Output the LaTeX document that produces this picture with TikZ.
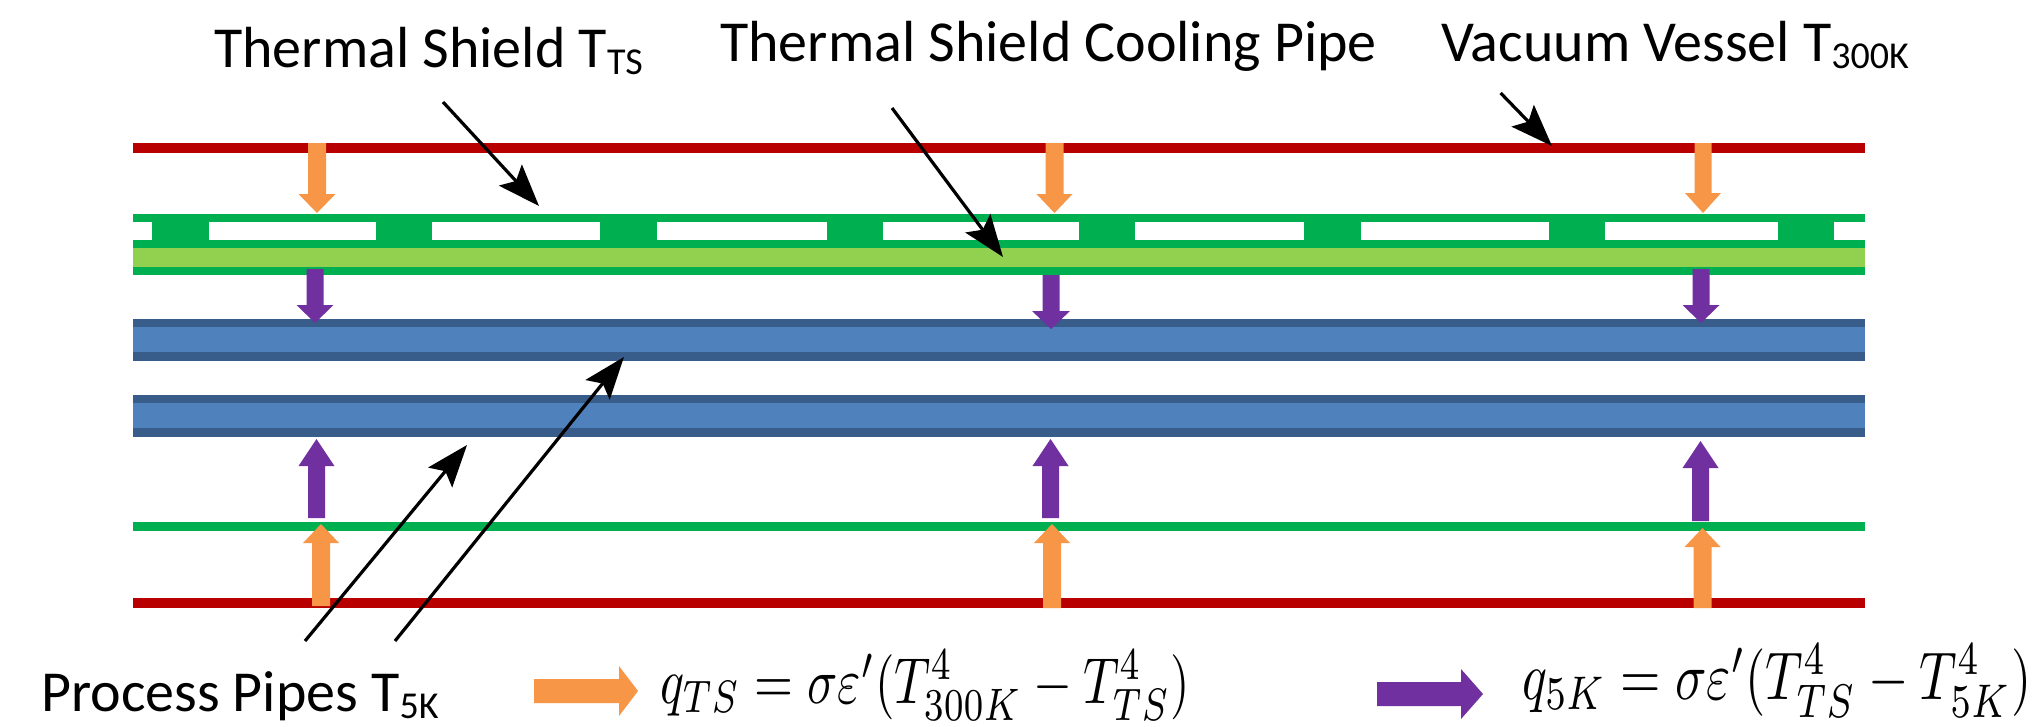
\documentclass[tikz,border=0pt]{standalone}
\usepackage[no-math]{fontspec}
\setmainfont{Carlito}
\usetikzlibrary{arrows.meta}
\definecolor{cred}{HTML}{B80000}
\definecolor{cgreen}{HTML}{00B050}
\definecolor{clight}{HTML}{92D050}
\definecolor{cblue}{HTML}{4F81BD}
\definecolor{cdark}{HTML}{385D8A}
\definecolor{corange}{HTML}{F79646}
\definecolor{cpurple}{HTML}{7030A0}
\tikzset{
  label text/.style={anchor=base west,inner sep=0pt,font=\fontsize{58}{68}\selectfont,text=black},
  eq text/.style={anchor=base west,inner sep=0pt,text=black},
  leader/.style={draw=black,line width=3.2pt,-{Stealth[length=42pt,width=31pt,inset=8pt]}},
  band/.style={draw=none}
}
\newcommand{\lowsub}[1]{\raisebox{-7pt}{\fontsize{38}{38}\selectfont #1}}
% \vblock{colour}{x centre}{half shaft}{half head}{tail y}{neck y}{tip y}
\newcommand{\vblock}[7]{\fill[#1] (#2-#3,#5) -- (#2+#3,#5) -- (#2+#3,#6) -- (#2+#4,#6) -- (#2,#7) -- (#2-#4,#6) -- (#2-#3,#6) -- cycle;}
\newcommand{\hblock}[7]{\fill[#1] (#2,#3-#4) -- (#6,#3-#4) -- (#6,#3-#5) -- (#7,#3) -- (#6,#3+#5) -- (#6,#3+#4) -- (#2,#3+#4) -- cycle;}
\begin{document}
\begin{tikzpicture}[x=1pt,y=-1pt]
\useasboundingbox (0,0) rectangle (2033,726);
\fill[white] (0,0) rectangle (2033,726);
% red lines
\fill[cred,band] (132.5,143) rectangle (1865,153);
\fill[cred,band] (132.5,598) rectangle (1865,608);
% thermal shield
\fill[cgreen,band] (132.5,214) rectangle (1865,275);
\fill[clight,band] (132.5,248) rectangle (1865,267);
\foreach \xa/\xb in {132.5/151.7,209/376,432/600,657/827,883.4/1078.6,1135/1304,1361/1549,1604.7/1777.5,1834/1865}
  \fill[white] (\xa,222) rectangle (\xb,240);
\fill[cgreen,band] (132.5,522) rectangle (1865,531);
% pipes
\foreach \ya in {319,395} {
  \fill[cdark,band] (132.5,\ya) rectangle (1865,\ya+41.5);
  \fill[cblue,band] (132.5,\ya+8) rectangle (1865,\ya+33);
}
% heat-flow arrows, orange down
\vblock{corange}{317}{9}{18.5}{143}{194}{213}
\vblock{corange}{1054.5}{9}{18}{143}{194}{213}
\vblock{corange}{1703}{8.5}{18}{143}{193}{213}
% purple down
\vblock{cpurple}{315}{8.5}{18.5}{269}{305}{323}
\vblock{cpurple}{1051}{8.5}{19}{275}{311}{329}
\vblock{cpurple}{1701}{8.5}{18.5}{269}{305}{323}
% purple up
\vblock{cpurple}{316.5}{8.5}{18}{518}{466}{439}
\vblock{cpurple}{1050.5}{8.5}{18}{518}{466}{439}
\vblock{cpurple}{1700.5}{8.5}{18}{521}{468}{441}
% orange up
\vblock{corange}{321}{9}{18}{606}{543}{524}
\vblock{corange}{1052}{9}{18}{608}{543}{524}
\vblock{corange}{1702.5}{9}{18}{608}{547}{528}
% labels
\node[label text] (ts) at (214,67) {Thermal Shield T\lowsub{TS}};
\node[label text] (pipe) at (720,61) {Thermal Shield Cooling Pipe};
\node[label text] (vv) at (1441,61) {Vacuum Vessel T\lowsub{300K}};
\node[label text] (pp) at (41,711) {Process Pipes T\lowsub{5K}};
% leaders
\coordinate (a1s) at (443,102); \coordinate (a1e) at (539,206);
\coordinate (a2s) at (892,108); \coordinate (a2e) at (1003,257);
\coordinate (a3s) at (1500.6,93); \coordinate (a3e) at (1552,146);
\coordinate (a4s) at (305,641); \coordinate (a4e) at (467,445);
\coordinate (a5s) at (395,641); \coordinate (a5e) at (624,357);
\draw[leader] (a1s) -- (a1e);
\draw[leader] (a2s) -- (a2e);
\draw[leader] (a3s) -- (a3e);
\draw[leader] (a4s) -- (a4e);
\draw[leader] (a5s) -- (a5e);
% legend
\hblock{corange}{534}{691}{12}{25}{619}{638}
\hblock{cpurple}{1377}{694}{12}{25}{1461}{1483}
\node[eq text] (eq1) at (660,703) {\scalebox{1}[1.3]{\resizebox{530pt}{!}{$q_{TS}=\sigma\varepsilon'(T_{300K}^{4}-T_{TS}^{4})$}}};
\node[eq text] (eq2) at (1522,699) {\scalebox{1}[1.3]{\resizebox{509pt}{!}{$q_{5K}=\sigma\varepsilon'(T_{TS}^{4}-T_{5K}^{4})$}}};
\end{tikzpicture}
\end{document}
